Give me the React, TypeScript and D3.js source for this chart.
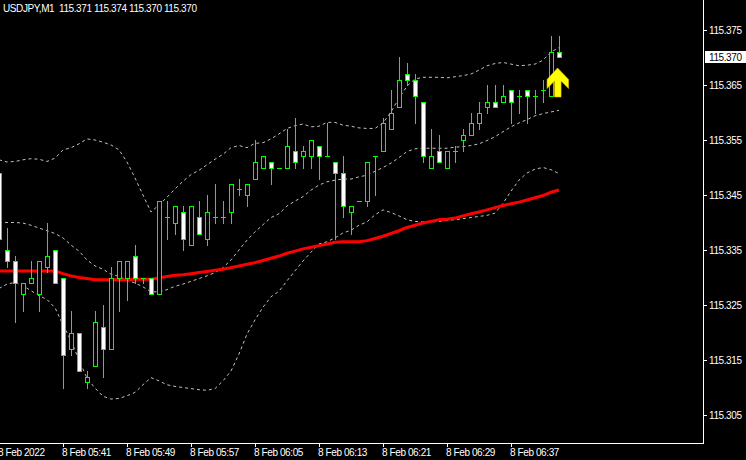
import React from 'react';
import * as d3 from 'd3';

const W = 746;
const H = 460;
const PLOT_R = 703;
const PLOT_B = 443;

const symbol = 'USDJPY,M1';
const headerOHLC = ['115.371', '115.374', '115.370', '115.370'];
const timeLabels = ['8 Feb 2022', '8 Feb 05:41', '8 Feb 05:49', '8 Feb 05:57', '8 Feb 06:05', '8 Feb 06:13', '8 Feb 06:21', '8 Feb 06:29', '8 Feb 06:37'];
const timeLabelIdx = [0, 8, 16, 24, 32, 40, 48, 56, 64];
const priceTicks = [115.305, 115.315, 115.325, 115.335, 115.345, 115.355, 115.365, 115.375];
const currentPrice = 115.37;

const opens = [115.349, 115.335, 115.333, 115.327, 115.329, 115.327, 115.332, 115.335, 115.330, 115.317,
  115.320, 115.311, 115.314, 115.321, 115.317, 115.330, 115.330, 115.334, 115.330, 115.330,
  115.327, 115.341, 115.340, 115.342, 115.336, 115.341, 115.337, 115.341, 115.341, 115.342,
  115.346, 115.345, 115.348, 115.350, 115.351, 115.350, 115.350, 115.353, 115.352, 115.352,
  115.354, 115.352, 115.351, 115.349, 115.342, 115.344, 115.344, 115.352, 115.353, 115.357,
  115.361, 115.367, 115.366, 115.362, 115.350, 115.353, 115.350, 115.353, 115.355, 115.356,
  115.358, 115.361, 115.362, 115.362, 115.364, 115.363, 115.364, 115.363, 115.364, 115.363,
  115.371];
const highs = [115.349, 115.339, 115.334, 115.329, 115.333, 115.333, 115.340, 115.335, 115.330, 115.324,
  115.320, 115.313, 115.324, 115.325, 115.332, 115.333, 115.333, 115.336, 115.330, 115.330,
  115.344, 115.344, 115.343, 115.343, 115.343, 115.344, 115.345, 115.347, 115.344, 115.347,
  115.348, 115.347, 115.355, 115.352, 115.351, 115.350, 115.357, 115.359, 115.354, 115.355,
  115.354, 115.358, 115.351, 115.352, 115.343, 115.344, 115.351, 115.352, 115.359, 115.364,
  115.370, 115.369, 115.367, 115.362, 115.357, 115.356, 115.353, 115.354, 115.357, 115.360,
  115.362, 115.365, 115.365, 115.365, 115.364, 115.364, 115.364, 115.364, 115.366, 115.374,
  115.374];
const lows = [115.337, 115.332, 115.322, 115.324, 115.329, 115.324, 115.331, 115.329, 115.310, 115.316,
  115.313, 115.310, 115.314, 115.312, 115.317, 115.324, 115.326, 115.329, 115.329, 115.327,
  115.327, 115.337, 115.338, 115.335, 115.336, 115.338, 115.336, 115.340, 115.340, 115.340,
  115.345, 115.343, 115.348, 115.350, 115.347, 115.350, 115.350, 115.350, 115.350, 115.350,
  115.348, 115.352, 115.337, 115.341, 115.338, 115.344, 115.343, 115.345, 115.353, 115.357,
  115.361, 115.365, 115.358, 115.351, 115.350, 115.351, 115.350, 115.351, 115.353, 115.356,
  115.357, 115.360, 115.361, 115.362, 115.358, 115.360, 115.358, 115.360, 115.362, 115.363,
  115.370];
const closes = [115.337, 115.333, 115.329, 115.329, 115.330, 115.333, 115.334, 115.329, 115.316, 115.320,
  115.313, 115.312, 115.322, 115.317, 115.330, 115.333, 115.333, 115.330, 115.330, 115.327,
  115.344, 115.341, 115.343, 115.337, 115.343, 115.338, 115.342, 115.341, 115.341, 115.347,
  115.346, 115.347, 115.351, 115.352, 115.350, 115.350, 115.354, 115.351, 115.353, 115.355,
  115.352, 115.352, 115.349, 115.343, 115.343, 115.344, 115.351, 115.352, 115.358, 115.360,
  115.366, 115.366, 115.363, 115.352, 115.352, 115.351, 115.353, 115.353, 115.356, 115.358,
  115.360, 115.362, 115.361, 115.363, 115.362, 115.363, 115.363, 115.363, 115.364, 115.371,
  115.370];

const bbUpper = [115.3514, 115.3510, 115.3511, 115.3514, 115.3516, 115.3515, 115.3511, 115.3517, 115.3532, 115.3536,
  115.3543, 115.3552, 115.3550, 115.3546, 115.3541, 115.3532, 115.3510, 115.3481, 115.3450, 115.3419,
  115.3432, 115.3446, 115.3461, 115.3475, 115.3487, 115.3495, 115.3505, 115.3515, 115.3524, 115.3536,
  115.3540, 115.3536, 115.3544, 115.3545, 115.3552, 115.3561, 115.3571, 115.3576, 115.3579, 115.3574,
  115.3575, 115.3582, 115.3582, 115.3577, 115.3575, 115.3572, 115.3571, 115.3571, 115.3581, 115.3601,
  115.3626, 115.3648, 115.3661, 115.3664, 115.3664, 115.3664, 115.3663, 115.3665, 115.3667, 115.3670,
  115.3677, 115.3685, 115.3689, 115.3691, 115.3688, 115.3685, 115.3686, 115.3688, 115.3695, 115.3710,
  115.3718];
const bbMiddle = [115.3401, 115.3400, 115.3400, 115.3399, 115.3395, 115.3390, 115.3385, 115.3380, 115.3372, 115.3359,
  115.3348, 115.3332, 115.3321, 115.3315, 115.3306, 115.3302, 115.3295, 115.3290, 115.3283, 115.3274,
  115.3274, 115.3278, 115.3284, 115.3288, 115.3293, 115.3298, 115.3303, 115.3309, 115.3318, 115.3332,
  115.3350, 115.3368, 115.3383, 115.3396, 115.3409, 115.3416, 115.3430, 115.3439, 115.3447, 115.3459,
  115.3468, 115.3474, 115.3477, 115.3479, 115.3479, 115.3483, 115.3486, 115.3493, 115.3500, 115.3508,
  115.3518, 115.3529, 115.3534, 115.3535, 115.3535, 115.3535, 115.3535, 115.3537, 115.3538, 115.3540,
  115.3543, 115.3549, 115.3556, 115.3565, 115.3574, 115.3581, 115.3587, 115.3594, 115.3598, 115.3601,
  115.3604];
const bbLower = [115.3280, 115.3288, 115.3291, 115.3285, 115.3276, 115.3267, 115.3260, 115.3245, 115.3214, 115.3185,
  115.3150, 115.3117, 115.3099, 115.3084, 115.3079, 115.3080, 115.3085, 115.3091, 115.3105, 115.3118,
  115.3112, 115.3105, 115.3102, 115.3100, 115.3098, 115.3096, 115.3095, 115.3098, 115.3112, 115.3130,
  115.3161, 115.3197, 115.3223, 115.3246, 115.3265, 115.3275, 115.3294, 115.3312, 115.3330, 115.3346,
  115.3361, 115.3365, 115.3372, 115.3381, 115.3386, 115.3395, 115.3401, 115.3414, 115.3423, 115.3418,
  115.3412, 115.3405, 115.3402, 115.3401, 115.3401, 115.3402, 115.3404, 115.3405, 115.3407, 115.3409,
  115.3411, 115.3413, 115.3417, 115.3435, 115.3457, 115.3477, 115.3490, 115.3497, 115.3500, 115.3496,
  115.3489];
const maRed = [115.3312, 115.3312, 115.3312, 115.3312, 115.3312, 115.3312, 115.3312, 115.3312, 115.3307, 115.3303,
  115.3300, 115.3298, 115.3296, 115.3296, 115.3296, 115.3296, 115.3296, 115.3297, 115.3297, 115.3297,
  115.3299, 115.3302, 115.3304, 115.3305, 115.3307, 115.3309, 115.3311, 115.3313, 115.3315, 115.3318,
  115.3321, 115.3324, 115.3327, 115.3331, 115.3335, 115.3339, 115.3344, 115.3348, 115.3352, 115.3355,
  115.3358, 115.3361, 115.3364, 115.3365, 115.3365, 115.3365, 115.3367, 115.3371, 115.3375, 115.3380,
  115.3385, 115.3391, 115.3395, 115.3399, 115.3402, 115.3405, 115.3406, 115.3408, 115.3412, 115.3416,
  115.3419, 115.3423, 115.3427, 115.3431, 115.3434, 115.3437, 115.3441, 115.3445, 115.3449, 115.3455,
  115.3459];

const arrowIndex = 69.82;
const arrowPrice = 115.3681;

const FONT = "'Liberation Sans', Arial, sans-serif";

export default function App() {
  const x = d3.scaleLinear().domain([0, 70]).range([-1, 559]);
  const y = d3.scaleLinear().domain([115.305, 115.375]).range([415, 30]);
  const idx = d3.range(opens.length);

  const lineGen = (arr: number[]) =>
    d3.line<number>().x((_, i) => x(i)).y((v) => y(v))(arr) || '';

  const candles = idx.map((i) => {
    const o = opens[i], c = closes[i], h = highs[i], l = lows[i];
    const cx = Math.round(x(i));
    const yh = Math.round(y(h));
    const yl = Math.round(y(l));
    const top = Math.round(y(Math.max(o, c)));
    const bot = Math.round(y(Math.min(o, c)));
    const bear = c < o;
    return (
      <g key={i}>
        <rect x={cx} y={yh} width={1} height={yl - yh + 1} fill="#00ff00" />
        {top === bot ? (
          <rect x={cx - 2} y={top} width={5} height={1} fill="#00ff00" />
        ) : (
          <rect x={cx - 2 + 0.5} y={top + 0.5} width={4} height={bot - top} fill={bear ? '#ffffff' : '#000000'} stroke="#00ff00" strokeWidth={1} />
        )}
      </g>
    );
  });

  const ax = x(arrowIndex);
  const ay = y(arrowPrice);
  const arrowPts = [
    [0, 0], [11, 11.5], [11, 20.5], [3.5, 13], [3.5, 29], [-3, 29], [-3, 13], [-10.5, 20.5], [-10.5, 11.5],
  ].map(([dx, dy]) => `${ax + dx},${ay + dy}`).join(' ');

  const header = `${symbol}  ${headerOHLC.join(' ')}`;

  return (
    <svg width={W} height={H} style={{ position: 'fixed', left: 0, top: 0, background: '#000' }}
      fontFamily={FONT} fontSize={10}>
      <rect x={0} y={0} width={W} height={H} fill="#000" />
      <defs>
        <clipPath id="plot">
          <rect x={0} y={0} width={PLOT_R} height={PLOT_B} />
        </clipPath>
      </defs>
      <g clipPath="url(#plot)">
        <path d={lineGen(bbUpper)} fill="none" stroke="#c0c0c0" strokeWidth={1} strokeDasharray="3,3" />
        <path d={lineGen(bbMiddle)} fill="none" stroke="#c0c0c0" strokeWidth={1} strokeDasharray="3,3" />
        <path d={lineGen(bbLower)} fill="none" stroke="#c0c0c0" strokeWidth={1} strokeDasharray="3,3" />
        <path d={lineGen(maRed)} fill="none" stroke="#ff0000" strokeWidth={3} />
        {candles}
        <polygon points={arrowPts} fill="#ffff00" stroke="#e8c000" strokeWidth={0.6} />
      </g>
      <text x={3} y={12} fill="#ffffff" letterSpacing={-0.4} style={{ whiteSpace: 'pre' }}>{header}</text>
      {/* frame */}
      <line x1={0} y1={PLOT_B + 0.5} x2={PLOT_R + 1} y2={PLOT_B + 0.5} stroke="#ffffff" />
      <line x1={PLOT_R + 0.5} y1={0} x2={PLOT_R + 0.5} y2={PLOT_B + 1} stroke="#ffffff" />
      {/* price axis */}
      {priceTicks.map((p) => {
        const yy = Math.round(y(p));
        return (
          <g key={p}>
            <line x1={PLOT_R + 1} x2={PLOT_R + 4} y1={yy + 0.5} y2={yy + 0.5} stroke="#ffffff" />
            <text x={709} y={yy + 4} fill="#ffffff" letterSpacing={-0.4}>{p.toFixed(3)}</text>
          </g>
        );
      })}
      <rect x={705} y={Math.round(y(currentPrice)) - 6} width={41} height={12} fill="#ffffff" />
      <text x={709} y={Math.round(y(currentPrice)) + 4} fill="#000000" letterSpacing={-0.4}>{currentPrice.toFixed(3)}</text>
      {/* time axis */}
      {timeLabelIdx.map((ti, k) => {
        const xx = Math.round(x(ti));
        return (
          <g key={ti}>
            <line x1={xx + 0.5} x2={xx + 0.5} y1={PLOT_B + 1} y2={PLOT_B + 4} stroke="#ffffff" />
            <text x={xx - 1} y={456} fill="#ffffff" letterSpacing={-0.4}>{timeLabels[k]}</text>
          </g>
        );
      })}
    </svg>
  );
}
